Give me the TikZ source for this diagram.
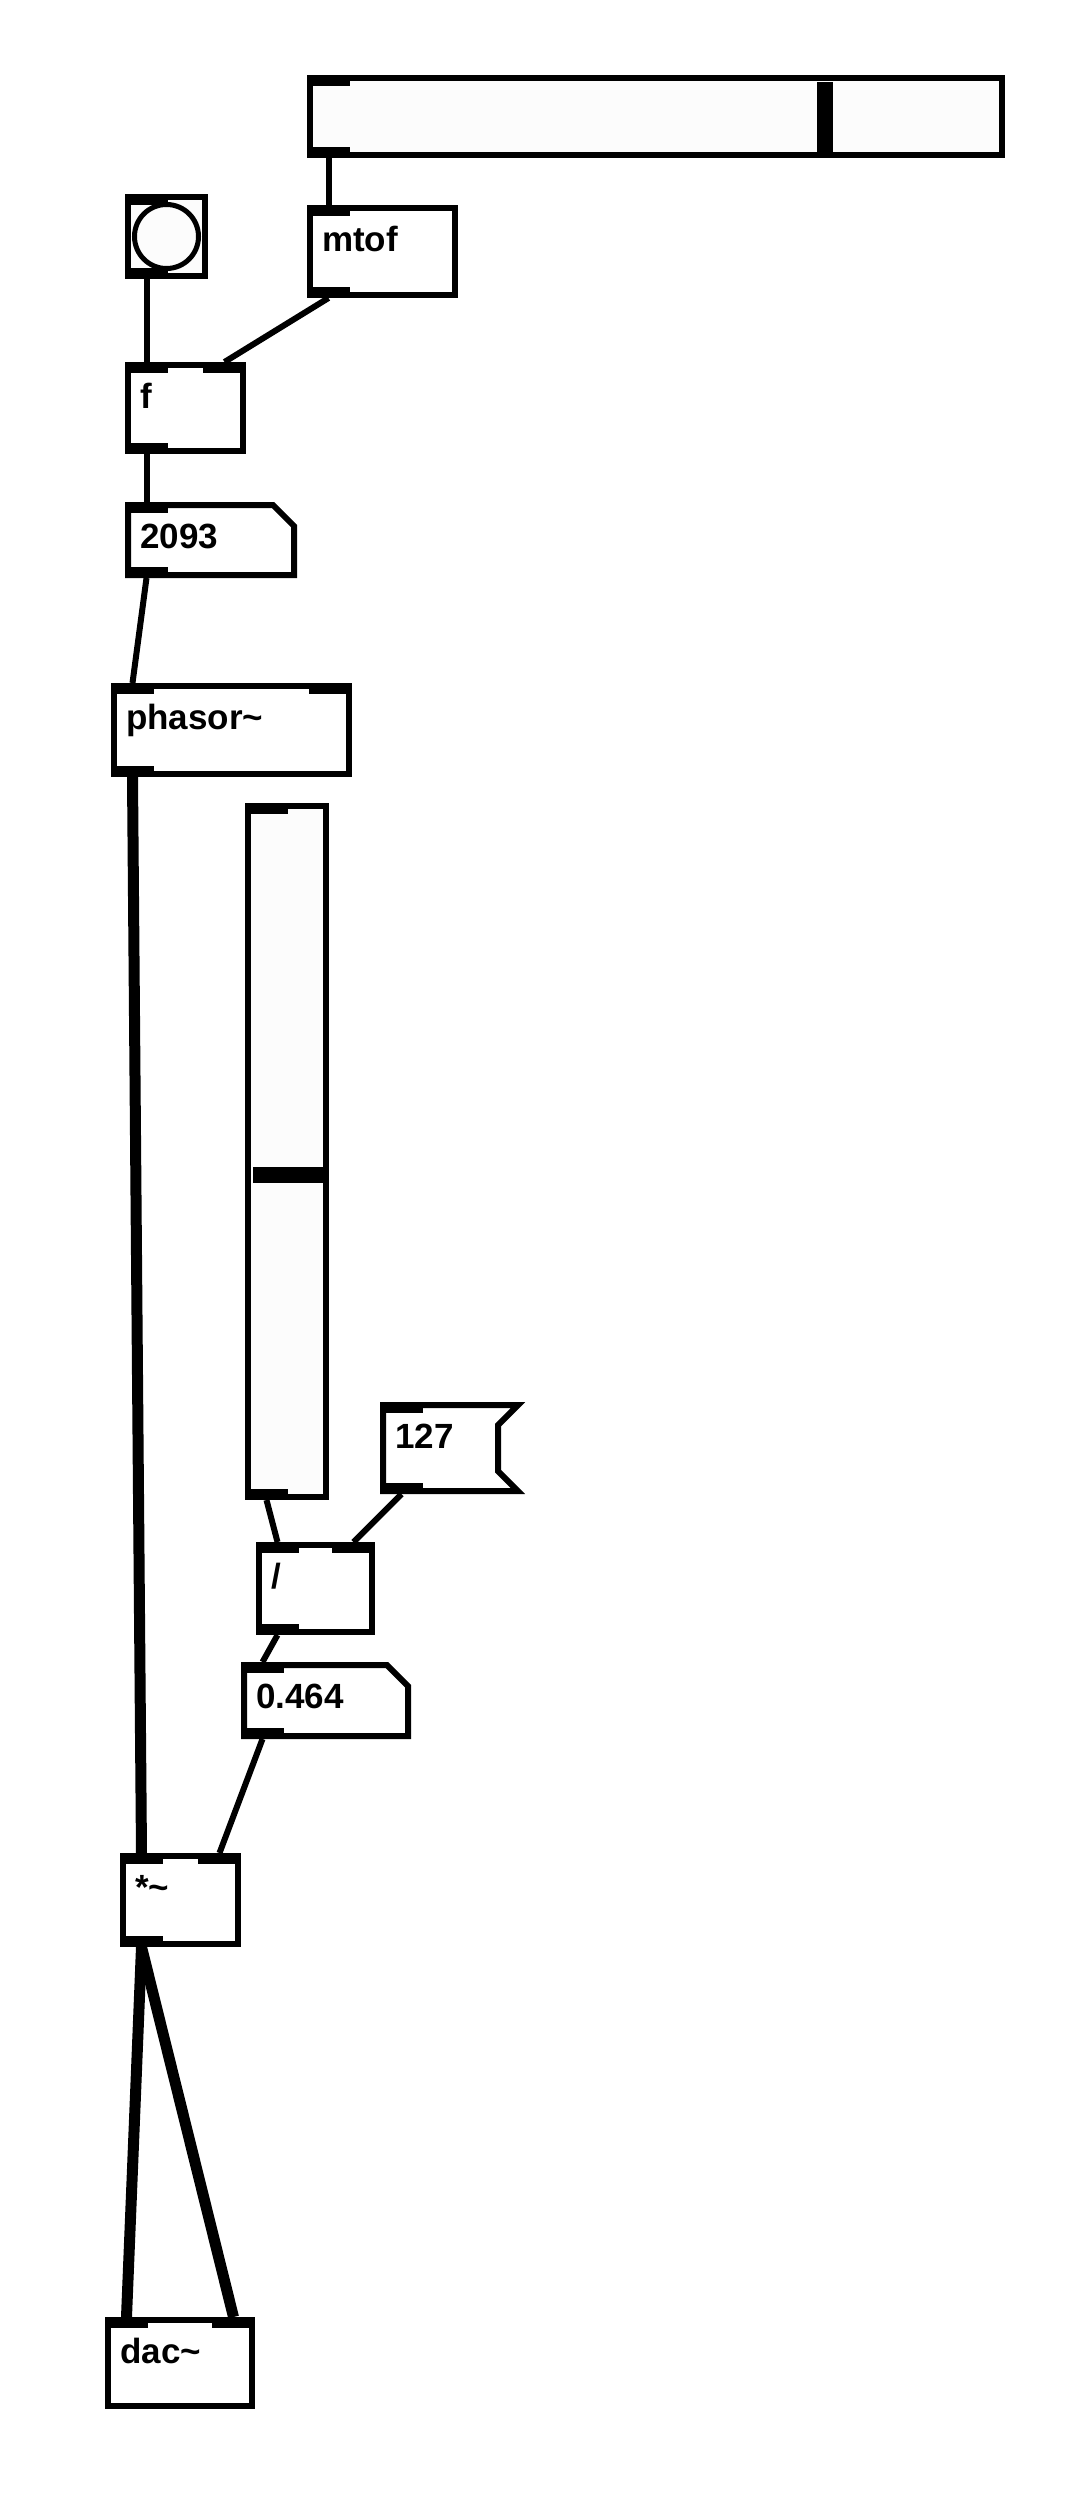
\documentclass[tikz,border=0pt]{standalone}
\usepackage{fontspec}
\setmainfont{Liberation Sans}
\definecolor{pdgray}{HTML}{FCFCFC}
\tikzset{
    pdbox/.style={draw, line width=6pt, fill=white, anchor=north west,
        inner sep=0pt, outer sep=3pt},
    pdedge/.style={line width=6pt},
    pdlabel/.style={font=\fontsize{35}{38}\selectfont\bfseries, anchor=base west,
        inner sep=0pt, xshift=15pt, yshift=-46pt},
    pdport/.style={fill=black, minimum width=43pt, minimum height=11pt,
        inner sep=0pt, outer sep=0pt},
    ctlwire/.style={line width=6pt},
    sigwire/.style={line width=11pt}
}

\begin{document}
\begin{tikzpicture}[x=1pt, y=-1pt]
\useasboundingbox[fill=white] (0,0) rectangle (1084,2497);

% objects
\node[pdbox, fill=pdgray, minimum width=692pt, minimum height=77pt] (hsl) at (307,75) {};
\fill (817,82) rectangle (833,153);
\node[pdbox, fill=pdgray, minimum width=77pt, minimum height=79pt] (bng) at (125,194) {};
\node[circle, draw, line width=5pt, fill=pdgray, minimum size=64pt, inner sep=0pt] (bngcirc) at (bng.center) {};
\node[pdbox, minimum width=145pt, minimum height=87pt, label={[pdlabel]north west:mtof}] (mtof) at (307,205) {};
\node[pdbox, minimum width=115pt, minimum height=86pt, label={[pdlabel]north west:f}] (flt) at (125,362) {};
\node[pdbox, draw=none, minimum width=166pt, minimum height=70pt, label={[pdlabel]north west:2093}] (freqnum) at (125,502) {};
\draw[pdedge] ([shift={(3pt,-3pt)}]freqnum.north west) -- ([shift={(-24pt,-3pt)}]freqnum.north east)
    -- ++(21,21) -- ([shift={(-3pt,3pt)}]freqnum.south east) -- ([shift={(3pt,3pt)}]freqnum.south west) -- cycle;
\node[pdbox, minimum width=235pt, minimum height=88pt, label={[pdlabel]north west:phasor\textasciitilde}] (phasor) at (111,683) {};
\node[pdbox, fill=pdgray, minimum width=78pt, minimum height=691pt] (vsl) at (245,803) {};
\fill (253,1167) rectangle (326,1183);
\node[pdbox, draw=none, minimum width=135pt, minimum height=86pt, label={[pdlabel]north west:127}] (msg) at (380,1402) {};
\draw[pdedge] ([shift={(3pt,-3pt)}]msg.north west) -- ([shift={(-3pt,-3pt)}]msg.north east)
    -- ++(-20,20) -- ++(0,46) -- ([shift={(-3pt,3pt)}]msg.south east) -- ([shift={(3pt,3pt)}]msg.south west) -- cycle;
\node[pdbox, minimum width=113pt, minimum height=87pt, label={[pdlabel]north west:/}] (divide) at (256,1542) {};
\node[pdbox, draw=none, minimum width=164pt, minimum height=71pt, label={[pdlabel]north west:0.464}] (gainnum) at (241,1662) {};
\draw[pdedge] ([shift={(3pt,-3pt)}]gainnum.north west) -- ([shift={(-24pt,-3pt)}]gainnum.north east)
    -- ++(21,21) -- ([shift={(-3pt,3pt)}]gainnum.south east) -- ([shift={(3pt,3pt)}]gainnum.south west) -- cycle;
\node[pdbox, minimum width=115pt, minimum height=88pt, label={[pdlabel]north west:*\textasciitilde}] (mult) at (120,1853) {};
\node[pdbox, minimum width=144pt, minimum height=86pt, label={[pdlabel]north west:dac\textasciitilde}] (dac) at (105,2317) {};

% inlets and outlets
\node[pdport, anchor=north west] (hsl-i) at (hsl.north west) {};
\node[pdport, anchor=south west] (hsl-o) at (hsl.south west) {};
\node[pdport, anchor=north west] (bng-i) at (bng.north west) {};
\node[pdport, anchor=south west] (bng-o) at (bng.south west) {};
\node[pdport, anchor=north west] (mtof-i) at (mtof.north west) {};
\node[pdport, anchor=south west] (mtof-o) at (mtof.south west) {};
\node[pdport, anchor=north west] (flt-i0) at (flt.north west) {};
\node[pdport, anchor=north east] (flt-i1) at (flt.north east) {};
\node[pdport, anchor=south west] (flt-o) at (flt.south west) {};
\node[pdport, anchor=north west] (freqnum-i) at (freqnum.north west) {};
\node[pdport, anchor=south west] (freqnum-o) at (freqnum.south west) {};
\node[pdport, anchor=north west] (phasor-i0) at (phasor.north west) {};
\node[pdport, anchor=north east] (phasor-i1) at (phasor.north east) {};
\node[pdport, anchor=south west] (phasor-o) at (phasor.south west) {};
\node[pdport, anchor=north west] (vsl-i) at (vsl.north west) {};
\node[pdport, anchor=south west] (vsl-o) at (vsl.south west) {};
\node[pdport, anchor=north west] (msg-i) at (msg.north west) {};
\node[pdport, anchor=south west] (msg-o) at (msg.south west) {};
\node[pdport, anchor=north west] (divide-i0) at (divide.north west) {};
\node[pdport, anchor=north east] (divide-i1) at (divide.north east) {};
\node[pdport, anchor=south west] (divide-o) at (divide.south west) {};
\node[pdport, anchor=north west] (gainnum-i) at (gainnum.north west) {};
\node[pdport, anchor=south west] (gainnum-o) at (gainnum.south west) {};
\node[pdport, anchor=north west] (mult-i0) at (mult.north west) {};
\node[pdport, anchor=north east] (mult-i1) at (mult.north east) {};
\node[pdport, anchor=south west] (mult-o) at (mult.south west) {};
\node[pdport, anchor=north west] (dac-i0) at (dac.north west) {};
\node[pdport, anchor=north east] (dac-i1) at (dac.north east) {};

% wires
\draw[ctlwire] (hsl-o.south) -- (mtof-i.north);
\draw[ctlwire] (bng-o.south) -- (flt-i0.north);
\draw[ctlwire] (mtof-o.south) -- (flt-i1.north);
\draw[ctlwire] (flt-o.south) -- (freqnum-i.north);
\draw[ctlwire] (freqnum-o.south) -- (phasor-i0.north);
\draw[sigwire] (phasor-o.south) -- (mult-i0.north);
\draw[ctlwire] (vsl-o.south) -- (divide-i0.north);
\draw[ctlwire] (msg-o.south) -- (divide-i1.north);
\draw[ctlwire] (divide-o.south) -- (gainnum-i.north);
\draw[ctlwire] (gainnum-o.south) -- (mult-i1.north);
\draw[sigwire] (mult-o.south) -- (dac-i0.north);
\draw[sigwire] (mult-o.south) -- (dac-i1.north);
\end{tikzpicture}
\end{document}
